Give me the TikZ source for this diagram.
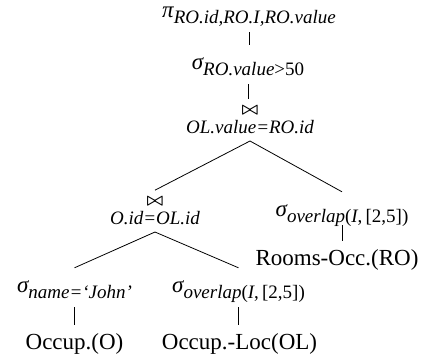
\documentclass[tikz,border=0pt]{standalone}
\usepackage{fontspec}
\setmainfont{Liberation Serif}
% operator subscript, set lowered and in italic
\newcommand{\opsub}[1]{\raisebox{-6pt}{\fontsize{19}{22}\selectfont\itshape #1}}
\newcommand{\joinsym}{{\fontsize{18}{18}\selectfont\boldmath$\bowtie$}}

\begin{document}
\begin{tikzpicture}[x=1pt,y=-1pt,
  every node/.style={font=\fontsize{23}{27}\selectfont, inner sep=0pt},
  opnode/.style={anchor=base, text height=22pt, text depth=13pt, inner ysep=2pt},
  topnode/.style={opnode, text height=12pt},
  shallow/.style={opnode, text depth=7pt},
  joinnode/.style={anchor=south, align=center, inner ysep=7pt,
    font=\fontsize{19}{19}\selectfont\itshape},
  edge/.style={line width=0.8pt}]
  \path[use as bounding box] (0,0) rectangle (428,360);

  % projection and selection on top
  \node[topnode] (proj) at (249,17) {{\itshape π}\opsub{RO.id,RO.I,RO.value}};
  \node[opnode] (sval) at (248,69) {{\itshape σ}\opsub{RO.value\upshape{>}50}};

  % upper join
  \node[joinnode] (j1) at (250,141) {\joinsym\\OL.value=RO.id};

  % right branch
  \node[shallow] (sro) at (342,216) {{\itshape σ}\opsub{overlap\upshape(\itshape I\upshape,\,[2,5])}};
  \node[opnode] (ro) at (337,265) {Rooms-Occ.(RO)};

  % lower join
  \node[joinnode] (j2) at (155,232) {\joinsym\\O.id=OL.id};

  % left branch
  \node[opnode] (sname) at (74.5,292) {{\itshape σ}\opsub{name=‘John’}};
  \node[opnode] (sol) at (238.5,292) {{\itshape σ}\opsub{overlap\upshape(\itshape I\upshape,\,[2,5])}};
  \node[opnode] (occ) at (74.5,349) {Occup.(O)};
  \node[opnode] (occl) at (239.5,349) {Occup.-Loc(OL)};

  % connectors
  \draw[edge] (proj.south) -- (proj.south |- sval.north);
  \draw[edge] (sval.south) -- (sval.south |- j1.north);
  \draw[edge] (j1.south) -- (j2.north);
  \draw[edge] (j1.south) -- (sro.north);
  \draw[edge] (sro.south) -- (sro.south |- ro.north);
  \draw[edge] (j2.south) -- (sname.north);
  \draw[edge] (j2.south) -- (sol.north);
  \draw[edge] (sname.south) -- (sname.south |- occ.north);
  \draw[edge] (sol.south) -- (sol.south |- occl.north);
\end{tikzpicture}
\end{document}
